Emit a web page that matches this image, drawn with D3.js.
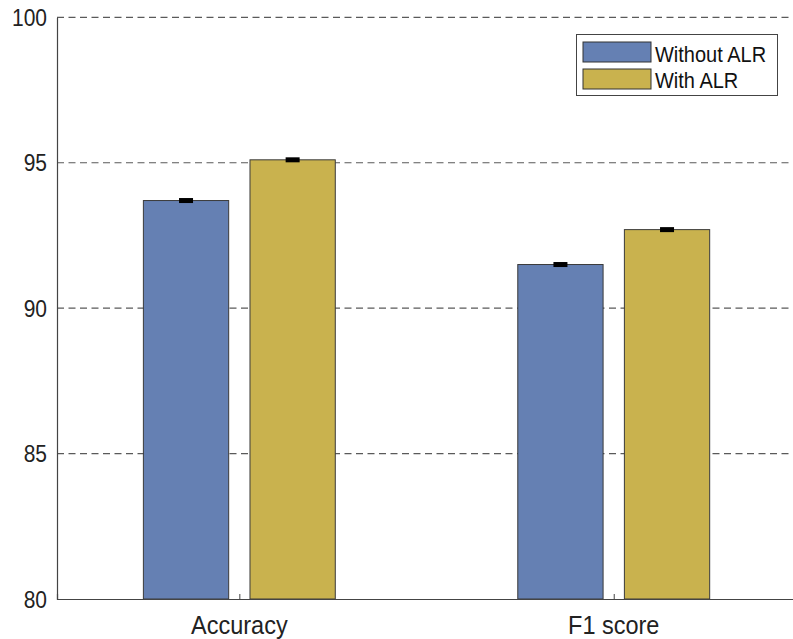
<!DOCTYPE html>
<html><head><meta charset="utf-8">
<script src="https://cdn.jsdelivr.net/npm/d3@7"></script>
<style>body{margin:0;background:#fff}svg{display:block}</style>
</head><body>
<svg id="c" width="793" height="639"></svg>
<script>
const categories = ["Accuracy", "F1 score"];
const seriesNames = ["Without ALR", "With ALR"];
const withoutALR = [93.7, 91.5];
const withALR = [95.1, 92.7];
const errWithout = [0.06, 0.06];
const errWith = [0.06, 0.06];
const yTicks = [80, 85, 90, 95, 100];
const colors = ["#6580b3", "#c9b24e"];

const FONT = "Arial, 'Liberation Sans', sans-serif";
const SY = 1.12;
const svg = d3.select("#c");
const L = 57, T = 17.3, B = 599;
const y = d3.scaleLinear().domain([80, 100]).range([B, T]);
const x = d3.scaleLinear().domain([0.513, 2.513]).range([L, L + 748.8]);
const barW = 85.3, off = 53.3;

// grid
svg.append("g").selectAll("line").data(yTicks.filter(d => d > 80)).join("line")
  .attr("x1", L).attr("x2", 800).attr("y1", d => y(d)).attr("y2", d => y(d))
  .attr("stroke", "#5a5a5a").attr("stroke-width", 1.2).attr("stroke-dasharray", "7,4.5");

const series = [withoutALR, withALR];
const errs = [errWithout, errWith];
series.forEach((vals, si) => {
  const g = svg.append("g");
  g.selectAll("rect").data(vals).join("rect")
    .attr("x", (d, i) => x(i + 1) + (si === 0 ? -off : off) - barW / 2)
    .attr("width", barW)
    .attr("y", d => y(d)).attr("height", d => y(80) - y(d))
    .attr("fill", colors[si]).attr("stroke", "#3a3a3a").attr("stroke-width", 1);
  g.selectAll(".eb").data(vals).join("rect")
    .attr("x", (d, i) => x(i + 1) + (si === 0 ? -off : off) - 7)
    .attr("width", 14)
    .attr("y", (d, i) => Math.min(y(d + errs[si][i]), y(d) - 2.5))
    .attr("height", (d, i) => Math.max(y(d - errs[si][i]) - y(d + errs[si][i]), 5))
    .attr("fill", "#000");
});

// axes (lines via d3 axes, labels drawn with slight vertical stretch)
const ya = svg.append("g").attr("transform", `translate(${L},0)`)
  .call(d3.axisLeft(y).tickValues(yTicks).tickSize(0).tickFormat(""));
ya.select(".domain").attr("stroke", "#444").attr("stroke-width", 1.2);
svg.append("g").selectAll("text").data(yTicks).join("text")
  .attr("transform", d => `translate(${L - 10},${y(d) + 8.5}) scale(1,${SY})`)
  .attr("text-anchor", "end").attr("font-family", FONT).attr("font-size", 21)
  .attr("fill", "#222").text(d => d);

const xa = svg.append("g").attr("transform", `translate(0,${B})`)
  .call(d3.axisBottom(x).tickValues([1, 2]).tickSize(-5).tickFormat(""));
xa.select(".domain").attr("stroke", "#444").attr("stroke-width", 1.2);
xa.selectAll(".tick line").attr("stroke", "#444");
svg.append("g").selectAll("text").data(categories).join("text")
  .attr("transform", (d, i) => `translate(${x(i + 1)},${B + 35}) scale(1,${SY})`)
  .attr("text-anchor", "middle").attr("font-family", FONT).attr("font-size", 23.5)
  .attr("fill", "#222").text(d => d);

// legend
const lg = svg.append("g");
lg.append("rect").attr("x", 576.5).attr("y", 34.5).attr("width", 201).attr("height", 61)
  .attr("fill", "#fff").attr("stroke", "#444").attr("stroke-width", 1);
seriesNames.forEach((n, i) => {
  lg.append("rect").attr("x", 583).attr("y", 42 + i * 27).attr("width", 68).attr("height", 20)
    .attr("fill", colors[i]).attr("stroke", "#333");
  lg.append("text").attr("transform", `translate(655,${61.5 + i * 26}) scale(1,${SY})`)
    .attr("font-family", FONT).attr("font-size", 20)
    .attr("fill", "#111").text(n);
});
</script>
</body></html>
